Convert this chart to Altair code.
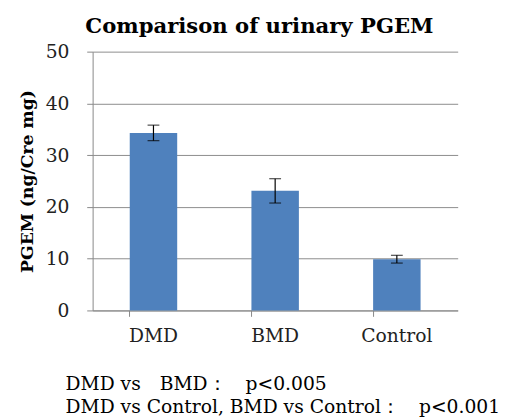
import altair as alt
import pandas as pd

groups = ["DMD", "BMD", "Control"]
means = [34.3, 23.1, 9.9]
errs = [1.5, 2.35, 0.75]

df = pd.DataFrame({
    "group": groups,
    "mean": means,
    "lo": [m - e for m, e in zip(means, errs)],
    "hi": [m + e for m, e in zip(means, errs)],
})

FONT = "DejaVu Serif"
foot = ["DMD vs\u3000BMD\uff1a\u3000p<0.005",
        "DMD vs Control, BMD vs Control\uff1a\u3000p<0.001"]

x = alt.X("group:N", sort=groups, scale=alt.Scale(paddingInner=0.61, paddingOuter=0.305),
          axis=alt.Axis(title=foot, titleFont=FONT, titleFontSize=19, titleFontWeight="normal",
                        titleAnchor="start", titleAlign="left", titleBaseline="alphabetic",
                        titleX=-28, titleY=80, titleLineHeight=23.5,
                        titleColor="black",
                        labelAngle=0, labelFont=FONT, labelFontSize=19, labelColor="#222",
                        labelPadding=11, bandPosition=0, tickSize=6, tickColor="#888",
                        domainColor="#888", grid=False))

bars = alt.Chart(df).mark_bar(color="#4F81BD").encode(
    x=x,
    y=alt.Y("mean:Q", scale=alt.Scale(domain=[0, 50]),
            axis=alt.Axis(values=[0, 10, 20, 30, 40, 50], title="PGEM (ng/Cre mg)",
                          titleFont=FONT, titleFontSize=17.5, titleFontWeight="bold", titleColor="black",
                          titlePadding=9,
                          labelFont=FONT, labelFontSize=19, labelColor="#222", labelPadding=18,
                          tickSize=6, tickColor="#888", domainColor="#888",
                          gridColor="#8c8c8c", gridWidth=1)),
)

err = alt.Chart(df).mark_errorbar(ticks={"size": 12, "color": "black", "strokeWidth": 1.2},
                                  color="black", thickness=1.2).encode(
    x=alt.X("group:N", sort=groups),
    y=alt.Y("lo:Q", title="PGEM (ng/Cre mg)"),
    y2="hi:Q",
)

chart = alt.layer(bars, err).properties(
    width=371, height=263,
    title=alt.TitleParams("Comparison of urinary PGEM", font=FONT, fontSize=21.5, fontWeight="bold",
                          color="black", dx=-16, offset=5),
    padding={"left": 10, "top": 5, "right": 0, "bottom": 0},
).configure_view(stroke=None)

chart.save("out.html", embed_options={"renderer": "svg", "actions": False})
